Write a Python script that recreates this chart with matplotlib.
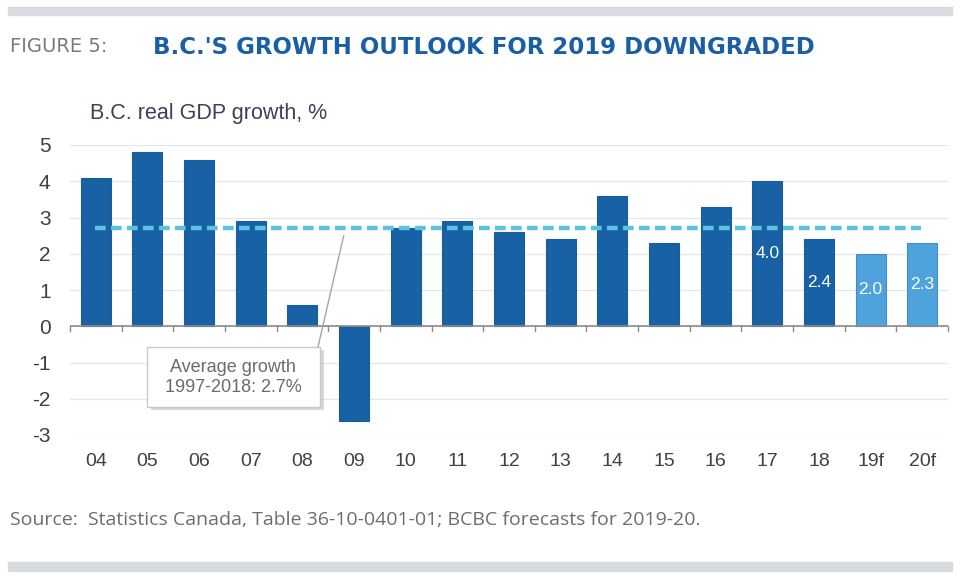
import matplotlib.pyplot as plt
from matplotlib.patches import Rectangle, FancyBboxPatch

plt.rcParams['font.family'] = ['Liberation Sans', 'DejaVu Sans']

# Data
years = ["04", "05", "06", "07", "08", "09", "10", "11", "12", "13",
         "14", "15", "16", "17", "18", "19f", "20f"]
growth = [4.1, 4.8, 4.6, 2.9, 0.6, -2.6, 2.7, 2.9, 2.6, 2.4,
          3.6, 2.3, 3.3, 4.0, 2.4, 2.0, 2.3]
forecast = [False] * 15 + [True, True]
labelled = ["17", "18", "19f", "20f"]
avg_growth = 2.7

dark = '#1761a4'
light = '#4fa3dc'
avg_col = '#5bc2e0'

fig = plt.figure(figsize=(9.6, 5.84), dpi=100)

# top and bottom grey bands
fig.patches.append(Rectangle((8 / 960, 1 - 15 / 584), 944 / 960, 8 / 584,
                             transform=fig.transFigure, color='#d8dce0', zorder=0))
fig.patches.append(Rectangle((8 / 960, 1 - 571 / 584), 944 / 960, 9 / 584,
                             transform=fig.transFigure, color='#d8dce0', zorder=0))

fig.text(10 / 960, 1 - 47 / 584, "FIGURE 5:", fontsize=14, color='#7a7a7a',
         va='center', family=['DejaVu Sans'])
fig.text(153 / 960, 1 - 47 / 584, "B.C.'S GROWTH OUTLOOK FOR 2019 DOWNGRADED",
         fontsize=16.5, color='#1b5ea8', va='center', fontweight='bold',
         family=['DejaVu Sans'])
fig.text(10 / 960, 1 - 520 / 584,
         "Source:  Statistics Canada, Table 36-10-0401-01; BCBC forecasts for 2019-20.",
         fontsize=14, color='#6d6d6d', va='center', family=['Open Sans', 'DejaVu Sans'])

ax = fig.add_axes([70 / 960, 1 - 435 / 584, 878 / 960, 290 / 584])
x = list(range(len(years)))
colors = [light if f else dark for f in forecast]
edges = ['#3f8ccc' if f else '#1c5d97' for f in forecast]
ax.bar(x, growth, width=0.58, color=colors, edgecolor=edges, linewidth=0.8, zorder=3)

for i, (yr, v) in enumerate(zip(years, growth)):
    if yr in labelled:
        ax.text(i, v / 2, f"{v:.1f}", color='white', ha='center', va='center',
                fontsize=12.5, zorder=4)

ax.plot([-0.02, 15.97], [avg_growth, avg_growth], linestyle=(0, (2.4, 1.2)),
        color=avg_col, linewidth=3.2, zorder=5)

ax.set_xlim(-0.5, 16.5)
ax.set_ylim(-3, 5)
ax.set_yticks(range(-3, 6))
ax.set_yticklabels([str(t) for t in range(-3, 6)])
ax.set_xticks(x)
ax.set_xticklabels(years)
ax.tick_params(axis='y', length=0, labelsize=15, colors='#404040', pad=14)
ax.tick_params(axis='x', length=0, labelsize=14, colors='#404040', pad=13)
ax.grid(axis='y', color='#e6e6e6', linewidth=0.9, zorder=0)
for s in ax.spines.values():
    s.set_visible(False)

# zero line with category separator ticks
ax.axhline(0, color='#8c8c8c', linewidth=1.2, zorder=4)
for i in range(len(years) + 1):
    ax.plot([i - 0.5, i - 0.5], [0, -0.14], color='#8c8c8c', linewidth=1, zorder=4,
            clip_on=False)

ax.text(-0.12, 5.88, "B.C. real GDP growth, %", fontsize=15.5, color='#3f3f58',
        ha='left', va='center')

# annotation callout
ax.plot([4.3, 4.8], [-0.58, 2.5], color='#a6a6a6', linewidth=1, zorder=6)
shadow = FancyBboxPatch((1.06, -2.31), 3.35, 1.66, boxstyle='square,pad=0',
                        facecolor='#bfbfbf', edgecolor='none', alpha=0.6, zorder=6)
ax.add_patch(shadow)
box = FancyBboxPatch((0.99, -2.24), 3.35, 1.66, boxstyle='square,pad=0',
                     facecolor='white', edgecolor='#c8c8c8', linewidth=1, zorder=7)
ax.add_patch(box)
ax.text(2.66, -1.41, "Average growth\n1997-2018: " + f"{avg_growth}%",
        ha='center', va='center', fontsize=13, color='#6b6b6b',
        linespacing=1.2, zorder=8)

fig.savefig('out.png', dpi=100)
